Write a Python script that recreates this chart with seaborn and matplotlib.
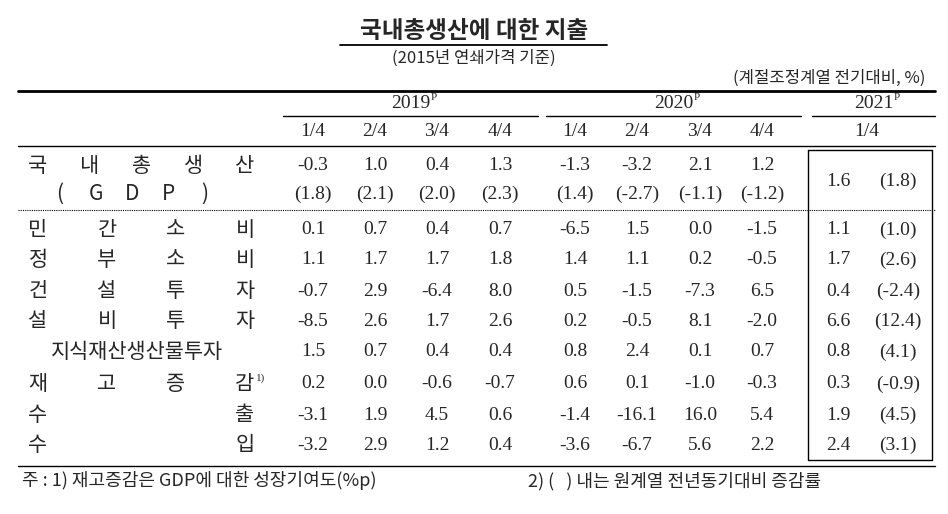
import matplotlib
matplotlib.use("Agg")
import matplotlib.pyplot as plt
import seaborn as sns

sns.set_theme(style="white")
KR = ["Noto Sans CJK KR", "DejaVu Sans"]
NUM = ["Liberation Serif", "DejaVu Serif"]

years = ["2019", "2020", "2021"]
quarters = ["1/4", "2/4", "3/4", "4/4", "1/4", "2/4", "3/4", "4/4", "1/4"]
gdp = [-0.3, 1.0, 0.4, 1.3, -1.3, -3.2, 2.1, 1.2, 1.6]
gdp_yoy = [1.8, 2.1, 2.0, 2.3, 1.4, -2.7, -1.1, -1.2, 1.8]
row_labels = ["민간소비", "정부소비", "건설투자", "설비투자", "지식재산생산물투자", "재고증감", "수출", "수입"]
rows = [
    [0.1, 0.7, 0.4, 0.7, -6.5, 1.5, 0.0, -1.5, 1.1],
    [1.1, 1.7, 1.7, 1.8, 1.4, 1.1, 0.2, -0.5, 1.7],
    [-0.7, 2.9, -6.4, 8.0, 0.5, -1.5, -7.3, 6.5, 0.4],
    [-8.5, 2.6, 1.7, 2.6, 0.2, -0.5, 8.1, -2.0, 6.6],
    [1.5, 0.7, 0.4, 0.4, 0.8, 2.4, 0.1, 0.7, 0.8],
    [0.2, 0.0, -0.6, -0.7, 0.6, 0.1, -1.0, -0.3, 0.3],
    [-3.1, 1.9, 4.5, 0.6, -1.4, -16.1, 16.0, 5.4, 1.9],
    [-3.2, 2.9, 1.2, 0.4, -3.6, -6.7, 5.6, 2.2, 2.4],
]
rows_yoy_2021 = [1.0, 2.6, -2.4, 12.4, 4.1, -0.9, 4.5, 3.1]

fig = plt.figure(figsize=(9.48, 5.14), dpi=100)
ax = fig.add_axes([0, 0, 1, 1])
ax.set_xlim(0, 948); ax.set_ylim(514, 0); ax.axis("off")

fs = 14
kfs = 15
ax.text(474, 31, "국내총생산에 대한 지출", family=KR, fontsize=17, fontweight="bold", ha="center", va="center")
ax.plot([340, 607], [45, 45], color="black", lw=1.3)
ax.text(474, 58, "(2015년 연쇄가격 기준)", family=KR, fontsize=12, ha="center", va="center")
ax.text(925, 78, "(계절조정계열 전기대비, %)", family=KR, fontsize=12, ha="right", va="center")

ax.plot([18, 935], [91, 91], color="black", lw=2)
for yr, (a, b) in zip(years, [(283, 538), (546, 801), (812, 935)]):
    ax.text((a + b) / 2, 104, yr, family=NUM, fontsize=fs, ha="center", va="center")
    ax.text((a + b) / 2 + 20, 97, "P", family=NUM, fontsize=8, ha="left", va="center")
    ax.plot([a, b], [116, 116], color="black", lw=1)
xs = [313, 375, 437, 500, 575, 637, 700, 762, 867]
for x, q in zip(xs, quarters):
    ax.text(x, 132, q, family=NUM, fontsize=fs, ha="center", va="center")
ax.plot([18, 935], [146, 146], color="black", lw=1)

def spread(label, y, x0=38, x1=245):
    n = len(label)
    for i, ch in enumerate(label):
        x = x0 + (x1 - x0) * i / (n - 1) if n > 1 else x0
        ax.text(x, y, ch, family=KR, fontsize=kfs, ha="center", va="center")

spread("국내총생산", 166)
spread("(GDP)", 194, 60, 205)
for i, x in enumerate(xs[:8]):
    ax.text(x, 166, f"{gdp[i]:.1f}", family=NUM, fontsize=fs, ha="center", va="center")
    ax.text(x, 194, f"({gdp_yoy[i]:.1f})", family=NUM, fontsize=fs, ha="center", va="center")
ax.text(838, 181, f"{gdp[8]:.1f}", family=NUM, fontsize=fs, ha="center", va="center")
ax.text(898, 181, f"({gdp_yoy[8]:.1f})", family=NUM, fontsize=fs, ha="center", va="center")
ax.plot([18, 935], [210, 210], color="black", lw=0.8, ls=(0, (1, 1)))

ys = [230, 260, 291, 321, 352, 384, 415, 445]
for lab, vals, yoy, y in zip(row_labels, rows, rows_yoy_2021, ys):
    if len(lab) > 5:
        ax.text(137, y, lab, family=KR, fontsize=kfs, ha="center", va="center")
    else:
        spread(lab, y)
    if lab == "재고증감":
        ax.text(256, y - 6, "1)", family=NUM, fontsize=8, ha="left", va="center")
    for x, v in zip(xs[:8], vals[:8]):
        ax.text(x, y, f"{v:.1f}", family=NUM, fontsize=fs, ha="center", va="center")
    ax.text(838, y, f"{vals[8]:.1f}", family=NUM, fontsize=fs, ha="center", va="center")
    ax.text(898, y, f"({yoy:.1f})", family=NUM, fontsize=fs, ha="center", va="center")

ax.plot([808, 932, 932, 808, 808], [150, 150, 460, 460, 150], color="black", lw=1)
ax.plot([18, 935], [466, 466], color="black", lw=1)
ax.text(22, 481, "주 : 1) 재고증감은 GDP에 대한 성장기여도(%p)", family=KR, fontsize=13, ha="left", va="center")
ax.text(528, 481, "2) (   ) 내는 원계열 전년동기대비 증감률", family=KR, fontsize=13, ha="left", va="center")

fig.savefig("out.png", dpi=100)
